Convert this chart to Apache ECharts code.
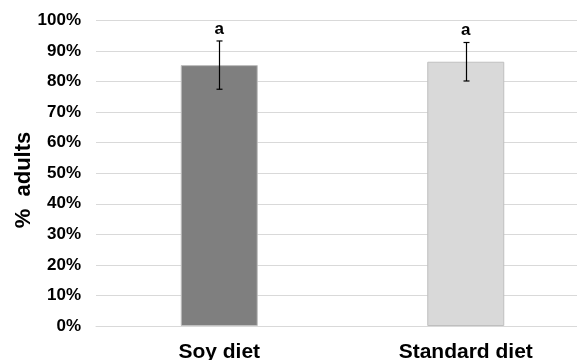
<!DOCTYPE html>
<html>
<head>
<meta charset="utf-8">
<script src="https://cdn.jsdelivr.net/npm/echarts@6/dist/echarts.min.js"></script>
<style>html,body{margin:0;padding:0;background:#fff;}#c{width:577px;height:360px;}</style>
</head>
<body>
<div id="c"></div>
<script>
var categories = ['Soy diet', 'Standard diet'];
var means = [85.4, 86.5];
var errors = [7.9, 6.3];
var sigLetters = ['a', 'a'];
var barColors = ['#7f7f7f', '#d9d9d9'];
var yTicks = [0, 10, 20, 30, 40, 50, 60, 70, 80, 90, 100];

var FONT = '"Liberation Sans", Arial, sans-serif';
var chart = echarts.init(document.getElementById('c'), null, {renderer: 'canvas'});

chart.setOption({
  animation: false,
  backgroundColor: '#ffffff',
  grid: {left: 96, width: 493, top: 20.5, bottom: 34, containLabel: false, outerBoundsMode: 'none'},
  xAxis: {
    type: 'category',
    data: categories,
    axisLine: {show: true, lineStyle: {color: '#d9d9d9', width: 1}},
    axisTick: {show: false},
    axisLabel: {color: '#000', fontFamily: FONT, fontWeight: 'bold', fontSize: 21, margin: 16}
  },
  yAxis: {
    type: 'value',
    min: yTicks[0],
    max: yTicks[yTicks.length - 1],
    interval: 10,
    axisLine: {show: false},
    axisTick: {show: false},
    splitLine: {lineStyle: {color: '#d9d9d9', width: 1}},
    axisLabel: {color: '#000', fontFamily: FONT, fontWeight: 'bold', fontSize: 17, margin: 15, formatter: '{value}%'}
  },
  graphic: [{
    type: 'text',
    x: 24, y: 180,
    rotation: Math.PI / 2,
    style: {text: '%  adults', fill: '#000', font: 'bold 22px ' + FONT, align: 'center', verticalAlign: 'middle'}
  }],
  series: [
    {
      type: 'bar',
      barWidth: 77,
      data: means.map(function (v, i) {
        return {value: v, itemStyle: {color: barColors[i], borderColor: '#bfbfbf', borderWidth: 1}};
      })
    },
    {
      type: 'custom',
      data: means.map(function (v, i) { return [i, v - errors[i], v + errors[i]]; }),
      renderItem: function (params, api) {
        var lo = api.coord([api.value(0), api.value(1)]);
        var hi = api.coord([api.value(0), api.value(2)]);
        var x = Math.round(lo[0]) + 0.5;
        var cap = 3;
        var st = {stroke: '#000', lineWidth: 1.2};
        return {type: 'group', children: [
          {type: 'line', shape: {x1: x, y1: hi[1], x2: x, y2: lo[1]}, style: st},
          {type: 'line', shape: {x1: x - cap, y1: hi[1], x2: x + cap, y2: hi[1]}, style: st},
          {type: 'line', shape: {x1: x - cap, y1: lo[1], x2: x + cap, y2: lo[1]}, style: st}
        ]};
      },
      z: 5
    },
    {
      type: 'custom',
      data: means.map(function (v, i) { return [i, v + errors[i], sigLetters[i]]; }),
      renderItem: function (params, api) {
        var p = api.coord([api.value(0), api.value(1)]);
        return {type: 'text', x: p[0], y: p[1] - 12, style: {
          text: sigLetters[params.dataIndex], fill: '#000', font: 'bold 17px ' + FONT,
          align: 'center', verticalAlign: 'middle'}};
      },
      z: 6
    }
  ]
});
</script>
</body>
</html>
